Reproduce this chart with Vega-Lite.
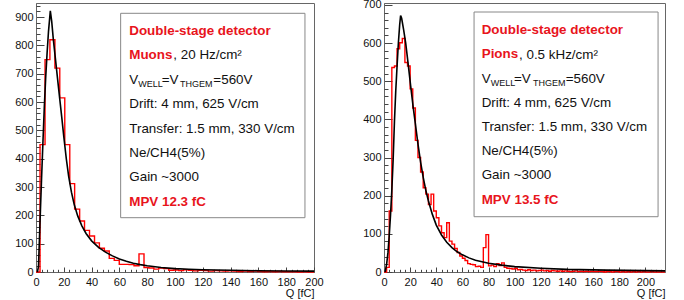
{
  "$schema": "https://vega.github.io/schema/vega-lite/v6.json",
  "background": "white",
  "padding": {"left": 14, "top": -2, "right": 0, "bottom": 0},
  "bounds": "flush",
  "spacing": 70,
  "config": {
    "font": "Liberation Sans",
    "view": {"stroke": "#666", "strokeWidth": 1},
    "axis": {"grid": false, "labelFont": "Liberation Sans", "labelFontSize": 11, "labelColor": "#111", "domainColor": "#666", "tickColor": "#444", "tickWidth": 1, "titleFont": "Liberation Sans", "titleFontSize": 11, "titleFontWeight": "normal", "titleColor": "#111", "labelOverlap": false, "labelFlush": false}
  },
  "datasets": {
    "muons": [{"q":0,"n":0},{"q":2.9,"n":450},{"q":6.5,"n":750},{"q":10.0,"n":820},{"q":13.6,"n":720},{"q":17.1,"n":615},{"q":20.7,"n":450},{"q":24.3,"n":312},{"q":27.8,"n":222},{"q":31.4,"n":180},{"q":34.9,"n":147},{"q":38.5,"n":127},{"q":42.1,"n":103},{"q":45.6,"n":84},{"q":49.2,"n":74},{"q":52.7,"n":48},{"q":56.3,"n":41},{"q":59.9,"n":27},{"q":63.4,"n":27},{"q":67.0,"n":26},{"q":70.5,"n":22},{"q":74.1,"n":64},{"q":77.7,"n":16},{"q":81.2,"n":14},{"q":84.8,"n":10},{"q":88.3,"n":14},{"q":91.9,"n":12},{"q":95.5,"n":6},{"q":99.0,"n":7},{"q":102.6,"n":5},{"q":106.1,"n":8},{"q":109.7,"n":6},{"q":113.3,"n":4},{"q":116.8,"n":6},{"q":120.4,"n":5},{"q":123.9,"n":3},{"q":127.5,"n":5},{"q":131.1,"n":4},{"q":134.6,"n":3},{"q":138.2,"n":4},{"q":141.7,"n":3},{"q":145.3,"n":2},{"q":148.9,"n":3},{"q":152.4,"n":2},{"q":156.0,"n":3},{"q":159.5,"n":2},{"q":163.1,"n":1},{"q":166.7,"n":2},{"q":170.2,"n":1},{"q":173.8,"n":2},{"q":177.3,"n":1},{"q":180.9,"n":1},{"q":184.5,"n":1},{"q":188.0,"n":0},{"q":191.6,"n":1},{"q":195.1,"n":0},{"q":198.7,"n":0},{"q":200,"n":0}],
    "muons_fit": [{"q":1.0,"n":0},{"q":1.8,"n":20},{"q":2.5,"n":120},{"q":3.2,"n":220},{"q":4.0,"n":330},{"q":5.0,"n":460},{"q":6.0,"n":585},{"q":7.0,"n":690},{"q":8.0,"n":775},{"q":9.0,"n":850},{"q":10.3,"n":922},{"q":11.3,"n":885},{"q":12.5,"n":820},{"q":14.0,"n":752},{"q":15.5,"n":683},{"q":17.0,"n":615},{"q":18.5,"n":548},{"q":20.0,"n":478},{"q":21.8,"n":400},{"q":23.5,"n":338},{"q":25.5,"n":282},{"q":27.5,"n":238},{"q":30.0,"n":198},{"q":33.0,"n":163},{"q":36.0,"n":136},{"q":40.0,"n":110},{"q":45.0,"n":87},{"q":50.0,"n":70},{"q":55.0,"n":57},{"q":60.0,"n":46},{"q":65.0,"n":38},{"q":70.0,"n":31},{"q":75.0,"n":26},{"q":80.0,"n":22},{"q":90.0,"n":16},{"q":100.0,"n":12},{"q":110.0,"n":9.5},{"q":120.0,"n":8},{"q":140.0,"n":6},{"q":160.0,"n":4.5},{"q":180.0,"n":3.5},{"q":200.0,"n":3}],
    "pions": [{"q":0,"n":0},{"q":2,"n":12},{"q":4,"n":160},{"q":6,"n":536},{"q":8,"n":540},{"q":10,"n":585},{"q":12,"n":601},{"q":14,"n":612},{"q":16,"n":549},{"q":18,"n":540},{"q":20,"n":480},{"q":22,"n":430},{"q":24,"n":345},{"q":26,"n":300},{"q":28,"n":262},{"q":30,"n":221},{"q":32,"n":204},{"q":34,"n":177},{"q":36,"n":204},{"q":38,"n":160},{"q":40,"n":142},{"q":42,"n":121},{"q":44,"n":103},{"q":46,"n":90},{"q":48,"n":129},{"q":50,"n":81},{"q":52,"n":73},{"q":54,"n":62},{"q":56,"n":51},{"q":58,"n":42},{"q":60,"n":36},{"q":62,"n":30},{"q":64,"n":22},{"q":66,"n":20},{"q":68,"n":19},{"q":70,"n":14},{"q":72,"n":15},{"q":74,"n":12},{"q":76,"n":64},{"q":78,"n":98},{"q":80,"n":16},{"q":82,"n":18},{"q":84,"n":14},{"q":86,"n":22},{"q":88,"n":17},{"q":90,"n":24},{"q":92,"n":12},{"q":94,"n":10},{"q":96,"n":9},{"q":98,"n":8},{"q":100,"n":10},{"q":102,"n":6},{"q":104,"n":7},{"q":106,"n":5},{"q":108,"n":4},{"q":110,"n":6},{"q":112,"n":4},{"q":114,"n":5},{"q":116,"n":3},{"q":118,"n":4},{"q":120,"n":5},{"q":122,"n":3},{"q":124,"n":4},{"q":126,"n":2},{"q":128,"n":4},{"q":130,"n":3},{"q":132,"n":2},{"q":134,"n":3},{"q":136,"n":2},{"q":138,"n":3},{"q":140,"n":2},{"q":142,"n":1},{"q":144,"n":2},{"q":146,"n":3},{"q":148,"n":1},{"q":150,"n":2},{"q":152,"n":1},{"q":154,"n":2},{"q":156,"n":1},{"q":158,"n":2},{"q":160,"n":1},{"q":162,"n":1},{"q":164,"n":2},{"q":166,"n":1},{"q":168,"n":0},{"q":170,"n":1},{"q":172,"n":1},{"q":174,"n":0},{"q":176,"n":1},{"q":178,"n":1},{"q":180,"n":0},{"q":182,"n":1},{"q":184,"n":0},{"q":186,"n":1},{"q":188,"n":0},{"q":190,"n":1},{"q":192,"n":0},{"q":194,"n":1},{"q":196,"n":0},{"q":198,"n":1},{"q":200,"n":0},{"q":204,"n":1},{"q":206,"n":0},{"q":215,"n":0}],
    "pions_fit": [{"q":0.8,"n":0},{"q":2,"n":20},{"q":3,"n":50},{"q":4,"n":95},{"q":5,"n":150},{"q":6,"n":215},{"q":7,"n":295},{"q":8,"n":395},{"q":9,"n":475},{"q":10,"n":540},{"q":11,"n":600},{"q":12,"n":648},{"q":12.7,"n":672},{"q":13.5,"n":665},{"q":15,"n":635},{"q":16.6,"n":600},{"q":18.5,"n":545},{"q":20.4,"n":488},{"q":22.3,"n":433},{"q":24.2,"n":383},{"q":26,"n":335},{"q":28,"n":288},{"q":30,"n":248},{"q":32,"n":214},{"q":34,"n":186},{"q":37,"n":151},{"q":40,"n":123},{"q":44,"n":97},{"q":48,"n":78},{"q":52,"n":64},{"q":56,"n":53},{"q":60,"n":45},{"q":65,"n":37},{"q":70,"n":31},{"q":75,"n":27},{"q":80,"n":23},{"q":90,"n":18},{"q":100,"n":14},{"q":120,"n":10},{"q":140,"n":7},{"q":170,"n":5},{"q":215,"n":3}]
  },
  "hconcat": [
    {
      "width": 278,
      "height": 269,
      "resolve": {"axis": {"x": "independent", "y": "independent"}},
      "layer": [
        {
          "data": {"name": "muons"},
          "mark": {"type": "line", "interpolate": "step-after", "color": "#ff0000", "strokeWidth": 1.4},
          "encoding": {
            "x": {"field": "q", "type": "quantitative", "scale": {"domain": [0, 200], "nice": false, "zero": false},
                  "axis": {"orient": "bottom", "values": [0,20,40,60,80,100,120,140,160,180,200], "tickSize": -5, "labelPadding": 9, "title": "Q [fC]", "titleAnchor": "end", "titleAlign": "right", "titlePadding": 0}},
            "y": {"field": "n", "type": "quantitative", "scale": {"domain": [0, 950], "nice": false},
                  "axis": {"orient": "left", "values": [0,100,200,300,400,500,600,700,800,900], "tickSize": -8, "labelPadding": 11, "title": null}}
          }
        },
        {
          "data": {"name": "muons_fit"},
          "mark": {"type": "line", "color": "#000000", "strokeWidth": 1.6},
          "encoding": {
            "x": {"field": "q", "type": "quantitative", "axis": null},
            "y": {"field": "n", "type": "quantitative", "axis": null}
          }
        },
        {
          "data": {"values": [{"box": "legend"}]},
          "mark": {"type": "rect", "fill": "white", "stroke": "#888888", "strokeWidth": 1},
          "encoding": {
            "x": {"datum": 60.9, "type": "quantitative", "axis": {"orient": "bottom", "values": [4,8,12,16,24,28,32,36,44,48,52,56,64,68,72,76,84,88,92,96,104,108,112,116,124,128,132,136,144,148,152,156,164,168,172,176,184,188,192,196], "tickSize": -2.7, "labels": false, "domain": false, "title": null}},
            "x2": {"datum": 193.5},
            "y": {"datum": 913.6, "type": "quantitative", "axis": {"orient": "left", "values": [20,40,60,80,120,140,160,180,220,240,260,280,320,340,360,380,420,440,460,480,520,540,560,580,620,640,660,680,720,740,760,780,820,840,860,880,920,940], "tickSize": -4, "labels": false, "domain": false, "title": null}},
            "y2": {"datum": 191.8}
          }
        },
        {
          "data": {"values": [{"label": "Double-stage detector\nMuons"}]},
          "mark": {"type": "text", "align": "left", "baseline": "alphabetic", "lineBreak": "\n", "lineHeight": 24.4, "font": "Liberation Sans", "fontSize": 13.4, "fontWeight": "bold", "color": "#e8141c"},
          "encoding": {"x": {"datum": 67.1, "type": "quantitative", "axis": null}, "y": {"datum": 837, "type": "quantitative", "axis": null}, "text": {"field": "label"}}
        },
        {
          "data": {"values": [{"label": "MPV 12.3 fC"}]},
          "mark": {"type": "text", "align": "left", "baseline": "alphabetic", "font": "Liberation Sans", "fontSize": 13.4, "fontWeight": "bold", "color": "#e8141c"},
          "encoding": {"x": {"datum": 67.1, "type": "quantitative", "axis": null}, "y": {"datum": 233.8, "type": "quantitative", "axis": null}, "text": {"field": "label"}}
        },
        {
          "data": {"values": [{"label": ", 20 Hz/cm²"}]},
          "mark": {"type": "text", "align": "left", "baseline": "alphabetic", "font": "Liberation Sans", "fontSize": 13.4, "color": "#111111"},
          "encoding": {"x": {"datum": 98.8, "type": "quantitative", "axis": null}, "y": {"datum": 750.8, "type": "quantitative", "axis": null}, "text": {"field": "label"}}
        },
        {
          "data": {"values": [{"label": "V"}]},
          "mark": {"type": "text", "align": "left", "baseline": "alphabetic", "font": "Liberation Sans", "fontSize": 13.4, "color": "#111111"},
          "encoding": {"x": {"datum": 67.1, "type": "quantitative", "axis": null}, "y": {"datum": 664.6, "type": "quantitative", "axis": null}, "text": {"field": "label"}}
        },
        {
          "data": {"values": [{"label": "WELL"}]},
          "mark": {"type": "text", "align": "left", "baseline": "alphabetic", "font": "Liberation Sans", "fontSize": 9, "color": "#111111"},
          "encoding": {"x": {"datum": 73.6, "type": "quantitative", "axis": null}, "y": {"datum": 653.3, "type": "quantitative", "axis": null}, "text": {"field": "label"}}
        },
        {
          "data": {"values": [{"label": "=V"}]},
          "mark": {"type": "text", "align": "left", "baseline": "alphabetic", "font": "Liberation Sans", "fontSize": 13.4, "color": "#111111"},
          "encoding": {"x": {"datum": 90.4, "type": "quantitative", "axis": null}, "y": {"datum": 664.6, "type": "quantitative", "axis": null}, "text": {"field": "label"}}
        },
        {
          "data": {"values": [{"label": "THGEM"}]},
          "mark": {"type": "text", "align": "left", "baseline": "alphabetic", "font": "Liberation Sans", "fontSize": 9, "color": "#111111"},
          "encoding": {"x": {"datum": 103.6, "type": "quantitative", "axis": null}, "y": {"datum": 653.3, "type": "quantitative", "axis": null}, "text": {"field": "label"}}
        },
        {
          "data": {"values": [{"label": "=560V"}]},
          "mark": {"type": "text", "align": "left", "baseline": "alphabetic", "font": "Liberation Sans", "fontSize": 13.4, "color": "#111111"},
          "encoding": {"x": {"datum": 127.6, "type": "quantitative", "axis": null}, "y": {"datum": 664.6, "type": "quantitative", "axis": null}, "text": {"field": "label"}}
        },
        {
          "data": {"values": [{"label": "Drift: 4 mm, 625 V/cm\nTransfer: 1.5 mm, 330 V/cm\nNe/CH4(5%)\nGain ~3000"}]},
          "mark": {"type": "text", "align": "left", "baseline": "alphabetic", "lineBreak": "\n", "lineHeight": 24.4, "font": "Liberation Sans", "fontSize": 13.4, "color": "#111111"},
          "encoding": {"x": {"datum": 67.1, "type": "quantitative", "axis": null}, "y": {"datum": 578.5, "type": "quantitative", "axis": null}, "text": {"field": "label"}}
        }
      ]
    },
    {
      "width": 281,
      "height": 269,
      "resolve": {"axis": {"x": "independent", "y": "independent"}},
      "layer": [
        {
          "data": {"name": "pions"},
          "mark": {"type": "line", "interpolate": "step-after", "color": "#ff0000", "strokeWidth": 1.4},
          "encoding": {
            "x": {"field": "q", "type": "quantitative", "scale": {"domain": [0, 215], "nice": false, "zero": false},
                  "axis": {"orient": "bottom", "values": [0,20,40,60,80,100,120,140,160,180,200], "tickSize": -5, "labelPadding": 9, "title": "Q [fC]", "titleAnchor": "end", "titleAlign": "right", "titlePadding": 0}},
            "y": {"field": "n", "type": "quantitative", "scale": {"domain": [0, 705], "nice": false},
                  "axis": {"orient": "left", "values": [0,100,200,300,400,500,600,700], "tickSize": -8, "labelPadding": 11, "title": null}}
          }
        },
        {
          "data": {"name": "pions_fit"},
          "mark": {"type": "line", "color": "#000000", "strokeWidth": 1.6},
          "encoding": {
            "x": {"field": "q", "type": "quantitative", "axis": null},
            "y": {"field": "n", "type": "quantitative", "axis": null}
          }
        },
        {
          "data": {"values": [{"box": "legend"}]},
          "mark": {"type": "rect", "fill": "white", "stroke": "#888888", "strokeWidth": 1},
          "encoding": {
            "x": {"datum": 68.9, "type": "quantitative", "axis": {"orient": "bottom", "values": [4,8,12,16,24,28,32,36,44,48,52,56,64,68,72,76,84,88,92,96,104,108,112,116,124,128,132,136,144,148,152,156,164,168,172,176,184,188,192,196,204,208,212], "tickSize": -2.7, "labels": false, "domain": false, "title": null}},
            "x2": {"datum": 209.7},
            "y": {"datum": 681.4, "type": "quantitative", "axis": {"orient": "left", "values": [20,40,60,80,120,140,160,180,220,240,260,280,320,340,360,380,420,440,460,480,520,540,560,580,620,640,660,680], "tickSize": -4, "labels": false, "domain": false, "title": null}},
            "y2": {"datum": 144.9}
          }
        },
        {
          "data": {"values": [{"label": "Double-stage detector\nPions"}]},
          "mark": {"type": "text", "align": "left", "baseline": "alphabetic", "lineBreak": "\n", "lineHeight": 24.2, "font": "Liberation Sans", "fontSize": 13.4, "fontWeight": "bold", "color": "#e8141c"},
          "encoding": {"x": {"datum": 74.75, "type": "quantitative", "axis": null}, "y": {"datum": 623, "type": "quantitative", "axis": null}, "text": {"field": "label"}}
        },
        {
          "data": {"values": [{"label": "MPV 13.5 fC"}]},
          "mark": {"type": "text", "align": "left", "baseline": "alphabetic", "font": "Liberation Sans", "fontSize": 13.4, "fontWeight": "bold", "color": "#e8141c"},
          "encoding": {"x": {"datum": 74.75, "type": "quantitative", "axis": null}, "y": {"datum": 179.0, "type": "quantitative", "axis": null}, "text": {"field": "label"}}
        },
        {
          "data": {"values": [{"label": ", 0.5 kHz/cm²"}]},
          "mark": {"type": "text", "align": "left", "baseline": "alphabetic", "font": "Liberation Sans", "fontSize": 13.4, "color": "#111111"},
          "encoding": {"x": {"datum": 103.3, "type": "quantitative", "axis": null}, "y": {"datum": 559.5, "type": "quantitative", "axis": null}, "text": {"field": "label"}}
        },
        {
          "data": {"values": [{"label": "V"}]},
          "mark": {"type": "text", "align": "left", "baseline": "alphabetic", "font": "Liberation Sans", "fontSize": 13.4, "color": "#111111"},
          "encoding": {"x": {"datum": 74.75, "type": "quantitative", "axis": null}, "y": {"datum": 496.1, "type": "quantitative", "axis": null}, "text": {"field": "label"}}
        },
        {
          "data": {"values": [{"label": "WELL"}]},
          "mark": {"type": "text", "align": "left", "baseline": "alphabetic", "font": "Liberation Sans", "fontSize": 9, "color": "#111111"},
          "encoding": {"x": {"datum": 81.6, "type": "quantitative", "axis": null}, "y": {"datum": 487.5, "type": "quantitative", "axis": null}, "text": {"field": "label"}}
        },
        {
          "data": {"values": [{"label": "=V"}]},
          "mark": {"type": "text", "align": "left", "baseline": "alphabetic", "font": "Liberation Sans", "fontSize": 13.4, "color": "#111111"},
          "encoding": {"x": {"datum": 99.5, "type": "quantitative", "axis": null}, "y": {"datum": 496.1, "type": "quantitative", "axis": null}, "text": {"field": "label"}}
        },
        {
          "data": {"values": [{"label": "THGEM"}]},
          "mark": {"type": "text", "align": "left", "baseline": "alphabetic", "font": "Liberation Sans", "fontSize": 9, "color": "#111111"},
          "encoding": {"x": {"datum": 114.0, "type": "quantitative", "axis": null}, "y": {"datum": 487.5, "type": "quantitative", "axis": null}, "text": {"field": "label"}}
        },
        {
          "data": {"values": [{"label": "=560V"}]},
          "mark": {"type": "text", "align": "left", "baseline": "alphabetic", "font": "Liberation Sans", "fontSize": 13.4, "color": "#111111"},
          "encoding": {"x": {"datum": 139.0, "type": "quantitative", "axis": null}, "y": {"datum": 496.1, "type": "quantitative", "axis": null}, "text": {"field": "label"}}
        },
        {
          "data": {"values": [{"label": "Drift: 4 mm, 625 V/cm\nTransfer: 1.5 mm, 330 V/cm\nNe/CH4(5%)\nGain ~3000"}]},
          "mark": {"type": "text", "align": "left", "baseline": "alphabetic", "lineBreak": "\n", "lineHeight": 24.2, "font": "Liberation Sans", "fontSize": 13.4, "color": "#111111"},
          "encoding": {"x": {"datum": 74.75, "type": "quantitative", "axis": null}, "y": {"datum": 432.7, "type": "quantitative", "axis": null}, "text": {"field": "label"}}
        }
      ]
    }
  ]
}
